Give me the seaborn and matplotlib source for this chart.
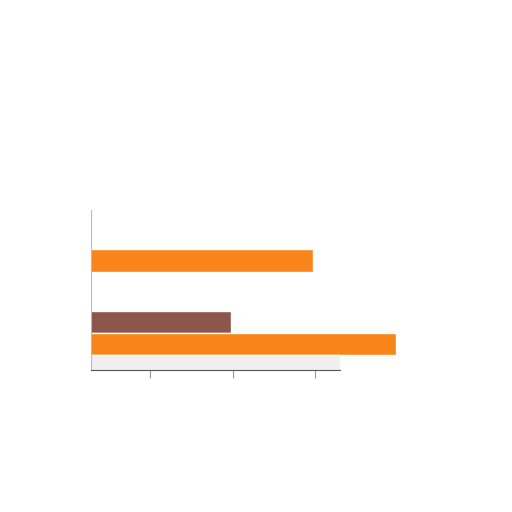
import pandas as pd
import numpy as np
import matplotlib
matplotlib.use("Agg")
import matplotlib.pyplot as plt
import seaborn as sns

# values (tick units)
categories = ["A", "B"]
groups = ["brown", "orange", "grey"]
brown_vals = [0.0, 1.98]
orange_vals = [2.97, 3.98]
grey_vals = [0.0, 3.3]
xticks = [1, 2, 3]

rows = []
for i, cat in enumerate(categories):
    rows.append((cat, groups[0], brown_vals[i]))
    rows.append((cat, groups[1], orange_vals[i]))
    rows.append((cat, groups[2], grey_vals[i]))
df = pd.DataFrame(rows, columns=["category", "group", "value"])

sns.set_style("white")
fig = plt.figure(figsize=(5.12, 5.12), dpi=100)
ax = fig.add_axes([0.178, 0.277, 0.598, 0.3125])

palette = {"brown": "#8c564b", "orange": "#f8841a", "grey": "#efefef"}
sns.barplot(data=df, y="category", x="value", hue="group", hue_order=groups,
            palette=palette, orient="h", width=0.8, saturation=1,
            legend=False, ax=ax)

ax.set_xlim(0.28, 4.0)
ax.set_ylim(1.31, -0.6)
ax.set_xticks(xticks)
ax.set_xticklabels([])
ax.set_yticks([])
ax.set_xlabel("")
ax.set_ylabel("")
ax.tick_params(axis="x", bottom=True, length=6, width=0.8, color="#999999")
for side in ["top", "right"]:
    ax.spines[side].set_visible(False)
ax.spines["left"].set_color("#bbbbbb")
ax.spines["bottom"].set_color("#555555")
ax.spines["bottom"].set_bounds(0.28, 3.3)

fig.savefig("out.png", dpi=100)
